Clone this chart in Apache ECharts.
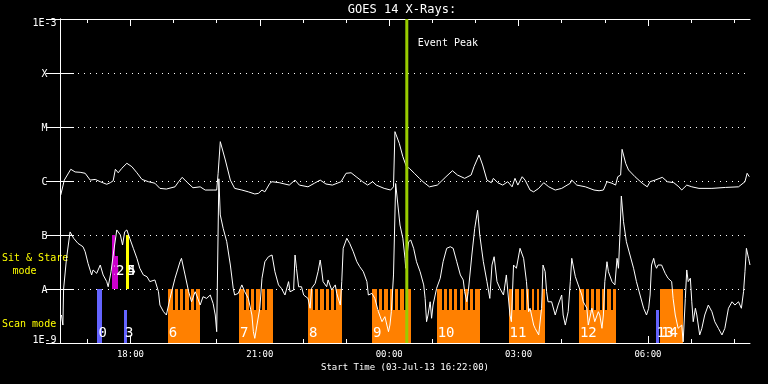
<!DOCTYPE html>
<html><head><meta charset="utf-8">
<script src="https://cdn.jsdelivr.net/npm/echarts@6/dist/echarts.min.js"></script>
<style>html,body{margin:0;padding:0;background:#000;}#c{width:768px;height:384px;}</style>
</head><body><div id="c"></div>
<script>
// ---- time axis: minutes after start (03-Jul-13 16:22:00) ----
const hourTicks = [38, 98, 158, 218, 278, 338, 398, 458, 518, 578, 638, 698, 758, 818, 878, 938];
const xTickValues = [98, 278, 458, 638, 818];
const xTickLabels = ['18:00', '21:00', '00:00', '03:00', '06:00'];
const yTickLabels = ['1E-9', 'A', 'B', 'C', 'M', 'X', '1E-3'];

// ---- GOES 14 long channel (1-8 A), [minute, W/m^2] ----
const longChannel = [
[1,5.5e-7],[6,1.04e-6],[15,1.65e-6],[21,1.47e-6],[28,1.45e-6],[35,1.39e-6],[42,1.04e-6],[49,1.07e-6],[56,9.7e-7],[65,8.7e-7],
[70,9.3e-7],[74,1.01e-6],[77,1.65e-6],[81,1.42e-6],[86,1.72e-6],[93,2.13e-6],[100,1.84e-6],[107,1.42e-6],[114,1.07e-6],[123,9.7e-7],
[132,9.1e-7],[139,7.3e-7],[148,7.1e-7],[160,7.8e-7],[165,9.7e-7],[170,1.17e-6],[176,9.7e-7],[185,7.5e-7],[195,7.8e-7],[202,6.8e-7],
[213,6.8e-7],[218,6.8e-7],[220,1.39e-6],[223,5.35e-6],[225,5.1e-6],[230,2.45e-6],[237,1.04e-6],[243,7.3e-7],[253,6.8e-7],[262,6.3e-7],
[271,5.75e-7],[276,5.9e-7],[281,6.8e-7],[285,6.3e-7],[292,9.1e-7],[295,9.7e-7],[305,9.3e-7],[319,8.4e-7],[327,1.04e-6],[333,8.4e-7],
[345,7.8e-7],[354,9.1e-7],[362,1.04e-6],[370,8.8e-7],[379,8.4e-7],[391,9.7e-7],[398,1.39e-6],[405,1.42e-6],[412,1.2e-6],[421,9.7e-7],
[428,8.4e-7],[435,9.7e-7],[440,8.4e-7],[451,7.3e-7],[460,6.8e-7],[464,7.8e-7],[466,8.2e-6],[468,7.65e-6],[472,5.0e-6],[477,2.82e-6],
[482,1.84e-6],[486,1.72e-6],[493,1.39e-6],[500,1.12e-6],[505,9.7e-7],[514,7.8e-7],[525,8.4e-7],[537,1.2e-6],[546,1.55e-6],[553,1.29e-6],
[563,1.12e-6],[572,1.29e-6],[576,1.84e-6],[583,3.03e-6],[588,1.98e-6],[594,1.04e-6],[600,9.3e-7],[603,1.12e-6],[609,9.3e-7],[616,8.4e-7],
[623,9.7e-7],[629,7.8e-7],[633,1.12e-6],[637,8.4e-7],[643,1.2e-6],[647,1.04e-6],[654,6.8e-7],[659,6.3e-7],[666,7.3e-7],[673,9.3e-7],
[680,7.8e-7],[689,6.8e-7],[698,7.3e-7],[710,9.1e-7],[712,1.04e-6],[719,8.4e-7],[731,7.8e-7],[743,6.8e-7],[750,6.6e-7],[756,6.8e-7],
[761,9.7e-7],[768,9.1e-7],[773,8.4e-7],[776,1.2e-6],[780,1.29e-6],[782,3.86e-6],[784,3.75e-6],[787,2.13e-6],[791,1.6e-6],[800,1.2e-6],
[810,9.1e-7],[817,7.8e-7],[821,9.7e-7],[828,1.04e-6],[838,1.17e-6],[845,9.7e-7],[854,9.3e-7],[861,7.8e-7],[865,6.8e-7],[872,8.4e-7],
[879,7.8e-7],[889,7.3e-7],[907,7.3e-7],[926,7.6e-7],[944,7.8e-7],[953,9.7e-7],[956,1.39e-6],[959,1.2e-6]
];

// ---- GOES 14 short channel (0.5-4 A), [minute, W/m^2] ----
const shortChannel = [
[2,3.3e-9],[4,2.15e-9],[5,1.0e-8],[9,3.64e-8],[14,1.14e-7],[19,8.7e-8],[25,7.0e-8],[32,6.06e-8],[35,4.9e-8],[39,2.99e-8],
[44,1.82e-8],[46,2.25e-8],[51,1.95e-8],[56,2.78e-8],[60,1.82e-8],[65,1.37e-8],[67,1.1e-8],[71,2.09e-8],[74,4.26e-8],[79,1.24e-7],
[81,1.33e-7],[84,1.0e-7],[87,6.52e-8],[90,1.15e-7],[93,1.24e-7],[97,8.7e-8],[102,5.67e-8],[107,3.7e-8],[111,2.42e-8],[116,1.82e-8],
[121,1.69e-8],[125,1.37e-8],[132,1.47e-8],[137,8.9e-9],[139,5.05e-9],[144,3.8e-9],[148,3.3e-9],[153,6.7e-9],[160,1.58e-8],[167,3.2e-8],
[169,3.7e-8],[174,1.82e-8],[179,8.9e-9],[183,5.8e-9],[188,8.9e-9],[190,7.74e-9],[195,5.05e-9],[199,7.2e-9],[204,6.7e-9],[209,7.74e-9],
[213,5.4e-9],[216,3.3e-9],[218,1.62e-9],[221,1.1e-6],[223,2.35e-7],[227,1.33e-7],[232,7.5e-8],[237,2.78e-8],[241,1.03e-8],[243,7.74e-9],
[248,8.3e-9],[253,1.19e-8],[257,8.9e-9],[262,6.7e-9],[267,3.3e-9],[269,1.62e-9],[271,1.22e-9],[274,2.15e-9],[278,4.4e-9],[281,1.58e-8],
[285,3.2e-8],[290,3.96e-8],[295,4.26e-8],[299,2.09e-8],[304,1.19e-8],[308,1.03e-8],[313,7.74e-9],[318,1.37e-8],[320,8.9e-9],[325,9.57e-9],
[327,4.26e-8],[329,2.42e-8],[332,1.1e-8],[336,1.1e-8],[339,7.74e-9],[341,8.3e-9],[345,6.7e-9],[348,4.4e-9],[350,1.03e-8],[355,1.27e-8],
[359,2.09e-8],[362,3.44e-8],[364,2.25e-8],[366,1.37e-8],[371,1.1e-8],[373,1.47e-8],[378,9.6e-9],[383,1.19e-8],[385,8.3e-9],[390,5.05e-9],
[392,1.37e-8],[394,5.67e-8],[399,8.7e-8],[403,7.0e-8],[408,4.9e-8],[413,3.2e-8],[417,2.59e-8],[422,2.09e-8],[427,1.37e-8],[429,7.74e-9],
[434,8.3e-9],[438,6.7e-9],[443,3.8e-9],[448,2.48e-9],[452,3.07e-9],[457,1.62e-9],[459,2.15e-9],[461,3.8e-9],[464,1.82e-8],[467,9.0e-7],
[473,1.53e-7],[477,8.7e-8],[480,3.7e-8],[481,2.42e-8],[485,7.5e-8],[488,8.07e-8],[492,5.67e-8],[496,3.2e-8],[501,2.09e-8],[506,1.19e-8],
[508,6.7e-9],[510,2.48e-9],[512,3.3e-9],[515,5.8e-9],[517,2.87e-9],[519,5.05e-9],[524,1.03e-8],[529,1.58e-8],[533,3.2e-8],[538,5.67e-8],
[543,6.06e-8],[547,5.67e-8],[552,3.2e-8],[557,1.82e-8],[561,1.47e-8],[563,8.9e-9],[566,5.8e-9],[568,8.9e-9],[573,4.26e-8],[577,1.33e-7],
[581,2.87e-7],[584,1.0e-7],[589,3.2e-8],[594,1.37e-8],[598,6.7e-9],[601,2.78e-8],[604,3.96e-8],[608,1.37e-8],[612,1.03e-8],[617,7.74e-9],
[621,1.82e-8],[626,3.3e-9],[628,2.48e-9],[631,2.78e-8],[635,2.42e-8],[640,5.67e-8],[642,6.06e-8],[645,3.7e-8],[649,1.37e-8],[652,3.8e-9],
[654,4.4e-9],[656,3.3e-9],[659,2.15e-9],[661,1.87e-9],[666,1.41e-9],[670,4.4e-9],[672,2.78e-8],[675,2.09e-8],[677,8.9e-9],[679,5.8e-9],
[684,5.8e-9],[689,3.3e-9],[693,5.05e-9],[698,7.74e-9],[700,3.3e-9],[703,2.15e-9],[707,3.8e-9],[710,1.37e-8],[712,3.7e-8],[717,1.69e-8],
[721,1.19e-8],[726,7.74e-9],[728,5.8e-9],[733,4.4e-9],[735,2.15e-9],[740,4.4e-9],[744,2.48e-9],[749,3.8e-9],[751,3.3e-9],[754,1.87e-9],
[756,3.3e-9],[758,1.37e-8],[761,3.2e-8],[763,2.09e-8],[768,1.37e-8],[772,1.19e-8],[775,3.7e-8],[777,2.42e-8],[779,1.0e-7],[781,5.27e-7],
[784,1.76e-7],[788,7.5e-8],[793,4.26e-8],[798,2.42e-8],[802,1.37e-8],[807,7.74e-9],[812,4.4e-9],[816,3.3e-9],[819,4.4e-9],[821,7.74e-9],
[823,2.78e-8],[826,3.7e-8],[828,2.78e-8],[830,2.42e-8],[832,2.78e-8],[837,2.78e-8],[842,1.95e-8],[846,1.58e-8],[851,1.37e-8],[853,6.7e-9],
[856,3.3e-9],[860,1.87e-9],[865,2.15e-9],[867,1.05e-9],[870,6.7e-9],[872,2.25e-8],[874,1.37e-8],[877,1.58e-8],[879,5.8e-9],[881,2.48e-9],
[884,4.4e-9],[886,3.3e-9],[890,1.41e-9],[893,1.87e-9],[897,3.3e-9],[902,5.05e-9],[907,3.8e-9],[911,2.48e-9],[916,1.87e-9],[921,1.41e-9],
[925,1.87e-9],[930,4.4e-9],[935,5.8e-9],[939,5.05e-9],[944,5.8e-9],[948,4.4e-9],[951,8.9e-9],[953,2.09e-8],[955,5.67e-8],[958,3.7e-8],
[960,2.78e-8]
];

// ---- observations (minutes after start) ----
const scanStart  = [150, 249, 345, 434, 524, 624, 722, 835];
const scanEnd    = [195, 296, 392, 489, 585, 675, 773, 867];
const scanLabels = ['6', '7', '8', '9', '10', '11', '12', '14'];
const scanRasterGaps = [
  [157, 164, 171, 179, 186],
  [256, 263, 270, 278, 285],
  [352, 359, 367, 374, 381],
  [441, 448, 456, 463, 470, 478],
  [531, 538, 545, 553, 560, 568, 575],
  [630, 638, 645, 653, 660, 667],
  [729, 736, 743, 751, 758, 766],
  []
];
const singleScanStart  = [52, 89, 829];
const singleScanEnd    = [58, 93, 833];
const singleScanTop    = [1e-8, 4e-9, 4e-9];
const singleScanLabels = ['0', '3', '13'];

const sitMagentaStart  = [72, 76.5];
const sitMagentaEnd    = [76.5, 80.3];
const sitMagentaTop    = [1e-7, 4.1e-8];
const sitMagentaLabels = ['1', '2'];
const sitYellowStart   = [92, 92];
const sitYellowEnd     = [95.6, 95.6];
const sitYellowTop     = [1e-7, 1e-7];
const sitYellowLabels  = ['4', '5'];

const eventPeakTime = 482.5;

const SCAN_LO = 1e-9, SCAN_HI = 1e-8, GAP_LO = 4e-9, SIT_LO = 1e-8, SIT_HI = 1e-7;
const GAP_W = 3;
const MONO = 'DejaVu Sans Mono';
const ORANGE = '#ff8000', BLUE = '#6464ff', MAGENTA = '#cc00cc', YELLOW = '#ffff00', GREEN = '#99cc00';

function rectFrom(api, x0, x1, lo, hi, fill) {
  const a = api.coord([x0, hi]);
  const b = api.coord([x1, lo]);
  const xa = Math.round(a[0]), xb = Math.round(b[0]);
  const ya = Math.round(a[1]), yb = Math.round(b[1]);
  return { type: 'rect', shape: { x: xa, y: ya, width: Math.max(1, xb - xa), height: yb - ya }, style: { fill: fill } };
}
function labelAt(x, y, text) {
  return { type: 'text', x: x, y: y, style: { text: text, fill: '#ffffff', font: '14px ' + MONO, align: 'left', verticalAlign: 'middle' } };
}

const chart = echarts.init(document.getElementById('c'), null, { renderer: 'canvas' });

const xBase = { type: 'value', min: 0, max: 960, gridIndex: 0, splitLine: { show: false } };
const option = {
  backgroundColor: '#000000',
  animation: false,
  grid: { left: 60, right: 18, top: 19, bottom: 41, containLabel: false },
  xAxis: [
    Object.assign({}, xBase, {
      position: 'bottom',
      axisLine: { show: true, lineStyle: { color: '#fff', width: 1 } },
      axisTick: { show: true, inside: true, length: 4, customValues: hourTicks, lineStyle: { color: '#fff' } },
      axisLabel: { show: true, customValues: xTickValues, margin: 7, color: '#fff', fontFamily: MONO, fontSize: 9,
        formatter: function (v) { const i = xTickValues.indexOf(v); return i >= 0 ? xTickLabels[i] : ''; } }
    }),
    Object.assign({}, xBase, {
      position: 'bottom', axisLine: { show: false },
      axisTick: { show: true, inside: true, length: 7, customValues: xTickValues, lineStyle: { color: '#fff' } },
      axisLabel: { show: false }
    }),
    Object.assign({}, xBase, {
      position: 'top',
      axisLine: { show: true, lineStyle: { color: '#fff', width: 1 } },
      axisTick: { show: true, inside: true, length: 4, customValues: hourTicks, lineStyle: { color: '#fff' } },
      axisLabel: { show: false }
    }),
    Object.assign({}, xBase, {
      position: 'top', axisLine: { show: false },
      axisTick: { show: true, inside: true, length: 7, customValues: xTickValues, lineStyle: { color: '#fff' } },
      axisLabel: { show: false }
    })
  ],
  yAxis: [
    {
      type: 'log', logBase: 10, min: 1e-9, max: 1e-3, position: 'left',
      axisLine: { show: true, lineStyle: { color: '#fff', width: 1 } },
      axisTick: { show: true, inside: true, length: 14, lineStyle: { color: '#fff' } },
      splitLine: { show: true, lineStyle: { color: '#fff', width: 1, type: [1, 5] } },
      axisLabel: {
        show: true, margin: 15.5, align: 'center', color: '#fff', fontFamily: MONO, fontSize: 10,
        formatter: function (v) {
          const i = Math.round(Math.log10(v)) + 9;
          const t = yTickLabels[i] || '';
          if (i === 6) return '{top|' + t + '}';
          if (i === 0) return '{bot|' + t + '}';
          return '{mid|' + t + '}';
        },
        rich: {
          top: { padding: [8, 0, 0, 0], color: '#fff', fontFamily: MONO, fontSize: 10 },
          bot: { padding: [0, 0, 6, 0], color: '#fff', fontFamily: MONO, fontSize: 10 },
          mid: { padding: [2, 0, 0, 0], color: '#fff', fontFamily: MONO, fontSize: 10 }
        }
      }
    },
    {
      type: 'log', logBase: 10, min: 1e-9, max: 1e-3, position: 'right',
      axisLine: { show: true, lineStyle: { color: '#fff', width: 1 } },
      axisTick: { show: true, inside: true, length: 14, lineStyle: { color: '#fff' } },
      splitLine: { show: false }, axisLabel: { show: false }
    }
  ],
  series: [
    {
      type: 'custom', name: 'scan', xAxisIndex: 0, yAxisIndex: 0, z: 2, clip: true,
      encode: { x: [0, 1], y: [2, 3] },
      data: scanStart.map(function (s, i) { return [s, scanEnd[i], SCAN_LO, SCAN_HI]; }),
      renderItem: function (params, api) {
        const i = params.dataIndex;
        const s = api.value(0), e = api.value(1);
        const children = [rectFrom(api, s, e, SCAN_LO, SCAN_HI, ORANGE)];
        scanRasterGaps[i].forEach(function (g) { children.push(rectFrom(api, g, g + GAP_W, GAP_LO, SCAN_HI, '#000')); });
        const p = api.coord([s, SCAN_LO]);
        children.push(labelAt(p[0] + 1, p[1] - 10, scanLabels[i]));
        return { type: 'group', children: children };
      }
    },
    {
      type: 'custom', name: 'single scan', xAxisIndex: 0, yAxisIndex: 0, z: 2, clip: true,
      encode: { x: [0, 1], y: [2, 3] },
      data: singleScanStart.map(function (s, i) { return [s, singleScanEnd[i], SCAN_LO, singleScanTop[i]]; }),
      renderItem: function (params, api) {
        const i = params.dataIndex;
        const s = api.value(0);
        const p = api.coord([s, SCAN_LO]);
        return { type: 'group', children: [
          rectFrom(api, s, api.value(1), api.value(2), api.value(3), BLUE),
          labelAt(p[0] + 1, p[1] - 10, singleScanLabels[i])
        ] };
      }
    },
    {
      type: 'custom', name: 'sit magenta', xAxisIndex: 0, yAxisIndex: 0, z: 2, clip: true,
      encode: { x: [0, 1], y: [2, 3] },
      data: sitMagentaStart.map(function (s, i) { return [s, sitMagentaEnd[i], SIT_LO, sitMagentaTop[i]]; }),
      renderItem: function (params, api) {
        const i = params.dataIndex;
        const s = api.value(0);
        const p = api.coord([s, SIT_LO]);
        return { type: 'group', children: [
          rectFrom(api, s, api.value(1), api.value(2), api.value(3), MAGENTA),
          labelAt(p[0] + 1, p[1] - 17.5, sitMagentaLabels[i])
        ] };
      }
    },
    {
      type: 'custom', name: 'sit yellow', xAxisIndex: 0, yAxisIndex: 0, z: 2, clip: true,
      encode: { x: [0, 1], y: [2, 3] },
      data: sitYellowStart.map(function (s, i) { return [s, sitYellowEnd[i], SIT_LO, sitYellowTop[i]]; }),
      renderItem: function (params, api) {
        const i = params.dataIndex;
        const s = api.value(0);
        const p = api.coord([s, SIT_LO]);
        return { type: 'group', children: [
          rectFrom(api, s, api.value(1), api.value(2), api.value(3), YELLOW),
          labelAt(p[0] + 1, p[1] - 17.5, sitYellowLabels[i])
        ] };
      }
    },
    {
      type: 'line', name: 'long', xAxisIndex: 0, yAxisIndex: 0, z: 5, data: longChannel,
      showSymbol: false, symbol: 'none', lineStyle: { color: '#fff', width: 1 }, silent: true
    },
    {
      type: 'line', name: 'short', xAxisIndex: 0, yAxisIndex: 0, z: 5, data: shortChannel,
      showSymbol: false, symbol: 'none', lineStyle: { color: '#fff', width: 1 }, silent: true
    },
    {
      type: 'custom', name: 'event peak', xAxisIndex: 0, yAxisIndex: 0, z: 6, clip: false,
      encode: { x: 0, y: 1 },
      data: [[eventPeakTime, 1e-6]],
      renderItem: function (params, api) {
        const t = api.value(0);
        const top = api.coord([t, 1e-3]);
        const bot = api.coord([t, 1e-9]);
        return { type: 'group', children: [
          { type: 'line', shape: { x1: top[0], y1: top[1], x2: bot[0], y2: bot[1] }, style: { stroke: GREEN, lineWidth: 3 } },
          { type: 'text', x: top[0] + 11, y: top[1] + 24, style: { text: 'Event Peak', fill: '#fff', font: '10px ' + MONO, align: 'left', verticalAlign: 'middle' } }
        ] };
      }
    }
  ],
  graphic: [
    { type: 'text', x: 402, y: 10, style: { text: 'GOES 14 X-Rays:', fill: '#fff', font: '12px ' + MONO, align: 'center', verticalAlign: 'middle' } },
    { type: 'text', x: 2, y: 258.5, style: { text: 'Sit & Stare', fill: YELLOW, font: '10px ' + MONO, align: 'left', verticalAlign: 'middle' } },
    { type: 'text', x: 24.5, y: 271, style: { text: 'mode', fill: YELLOW, font: '10px ' + MONO, align: 'center', verticalAlign: 'middle' } },
    { type: 'text', x: 2, y: 324, style: { text: 'Scan mode', fill: YELLOW, font: '10px ' + MONO, align: 'left', verticalAlign: 'middle' } },
    { type: 'text', x: 405, y: 368, style: { text: 'Start Time (03-Jul-13 16:22:00)', fill: '#fff', font: '9px ' + MONO, align: 'center', verticalAlign: 'middle' } }
  ]
};
chart.setOption(option);
</script>
</body></html>
